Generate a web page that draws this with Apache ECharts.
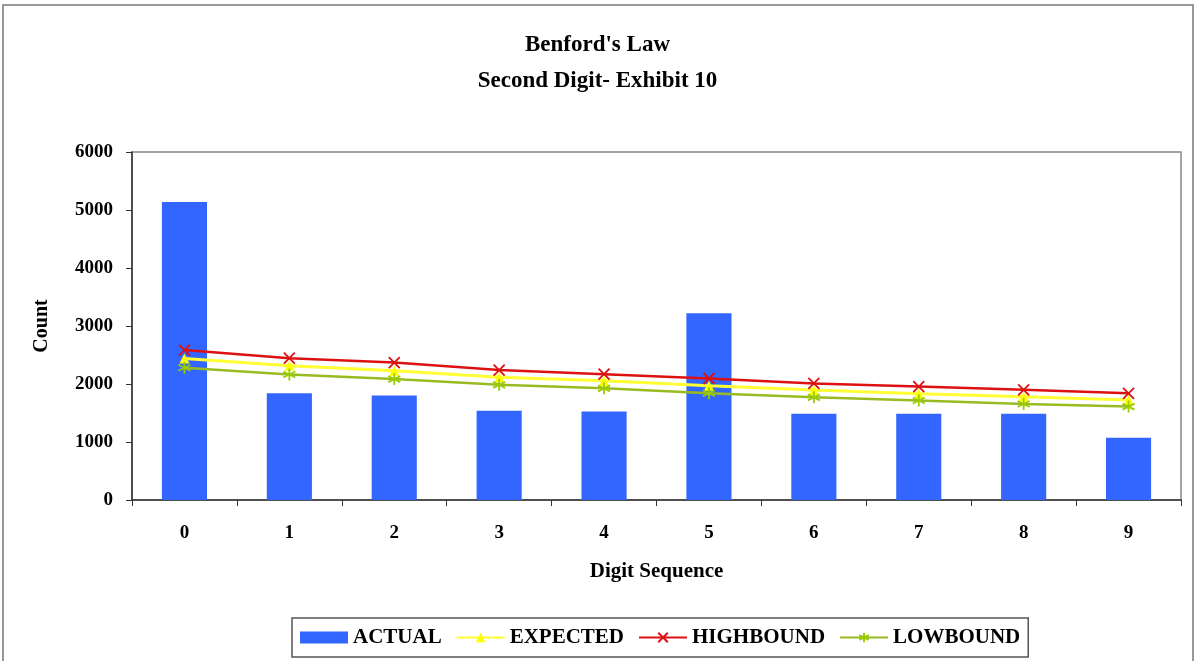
<!DOCTYPE html>
<html><head><meta charset="utf-8">
<script src="https://cdn.jsdelivr.net/npm/echarts@6/dist/echarts.min.js"></script>
<style>html,body{margin:0;padding:0;background:#fff}#c{width:1195px;height:661px}</style>
</head><body><div id="c"></div>
<script>
const categories = ['0','1','2','3','4','5','6','7','8','9'];
const actual    = [5140, 1840, 1800, 1540, 1525, 3220, 1485, 1485, 1485, 1075];
const expected  = [2440, 2315, 2230, 2115, 2055, 1970, 1895, 1830, 1780, 1725];
const highbound = [2585, 2445, 2370, 2240, 2170, 2095, 2010, 1955, 1900, 1840];
const lowbound  = [2280, 2165, 2085, 1985, 1925, 1840, 1770, 1715, 1655, 1610];
const yTicks = [0, 1000, 2000, 3000, 4000, 5000, 6000];

const serif = '"Liberation Serif","Times New Roman",serif';
const xPath = 'path://M0,0L10,10M10,0L0,10';
const starPath = 'path://M5,0L5,10M0,2.5L10,7.5M10,2.5L0,7.5';

const chart = echarts.init(document.getElementById('c'));
chart.setOption({
  animation: false,
  backgroundColor: '#fff',
  graphic: [{type:'rect', shape:{x:3,y:5,width:1190,height:660}, style:{fill:'none', stroke:'#777', lineWidth:1.5}, silent:true}],
  title: [
    {text:"Benford's Law", left:'center', top:29, textStyle:{fontFamily:serif, fontWeight:'bold', fontSize:23, color:'#000'}},
    {text:"Second Digit- Exhibit 10", left:'center', top:65, textStyle:{fontFamily:serif, fontWeight:'bold', fontSize:23, color:'#000'}}
  ],
  grid: {left:132, right:14, top:152, bottom:161, show:true, borderColor:'#888', borderWidth:1.5, backgroundColor:'#fff'},
  legend: {
    bottom: 4, left: 292,
    data: [{name:'ACTUAL', icon:'rect'},'EXPECTED','HIGHBOUND','LOWBOUND'],
    borderColor:'#555', borderWidth:1.5, padding:[9,8,9,8],
    itemWidth: 48, itemHeight: 12, itemGap: 14,
    textStyle:{fontFamily:serif, fontWeight:'bold', fontSize:21, color:'#000'}
  },
  xAxis: {
    type:'category', data: categories,
    name:'Digit Sequence', nameLocation:'middle', nameGap:61,
    nameTextStyle:{fontFamily:serif, fontWeight:'bold', fontSize:21, color:'#000'},
    axisLine:{lineStyle:{color:'#333', width:1.5}},
    axisTick:{show:true, length:6, lineStyle:{color:'#333'}},
    axisLabel:{fontFamily:serif, fontWeight:'bold', fontSize:19, color:'#000', margin:24}
  },
  yAxis: {
    type:'value', min:0, max:6000, interval:1000,
    name:'Count', nameLocation:'middle', nameGap:80, nameRotate:90,
    nameTextStyle:{fontFamily:serif, fontWeight:'bold', fontSize:20, color:'#000'},
    axisLine:{show:true, lineStyle:{color:'#333', width:1.5}},
    axisTick:{show:true, length:6, lineStyle:{color:'#333'}},
    splitLine:{show:false},
    axisLabel:{fontFamily:serif, fontWeight:'bold', fontSize:19, color:'#000', margin:19,
      formatter: v => yTicks.includes(v) ? String(v) : ''}
  },
  series: [
    {name:'ACTUAL', type:'bar', data: actual, barWidth:'43%', itemStyle:{color:'#3366FF'}},
    {name:'EXPECTED', type:'line', data: expected, symbol:'triangle', symbolSize:10,
      lineStyle:{color:'#FFFF33', width:3}, itemStyle:{color:'#FFFF00'}},
    {name:'HIGHBOUND', type:'line', data: highbound, symbol:xPath, symbolSize:11,
      lineStyle:{color:'#DD1111', width:2.5}, itemStyle:{color:'#DD1111', borderColor:'#DD1111', borderWidth:1.8}},
    {name:'LOWBOUND', type:'line', data: lowbound, symbol:starPath, symbolSize:12,
      lineStyle:{color:'#99BB22', width:2.5}, itemStyle:{color:'#99CC00', borderColor:'#99CC00', borderWidth:1.8}}
  ]
});
</script></body></html>
